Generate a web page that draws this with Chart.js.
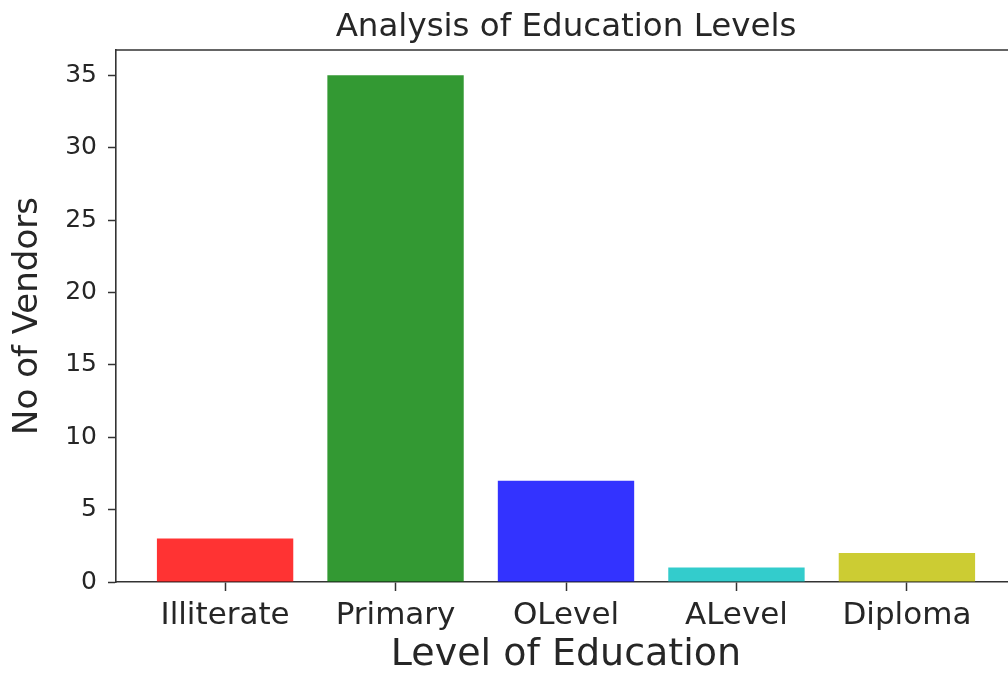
<!DOCTYPE html>
<html>
<head>
<meta charset="utf-8">
<script src="https://cdn.jsdelivr.net/npm/chart.js@4"></script>
<style>
  html, body { margin: 0; padding: 0; background: #ffffff; overflow: hidden; width: 1008px; height: 673px; }
  #wrap { width: 1020px; height: 673px; }
</style>
</head>
<body>
<div id="wrap"><canvas id="c" width="1020" height="673"></canvas></div>
<script>
const categories = ["Illiterate", "Primary", "OLevel", "ALevel", "Diploma"];
const vendorCounts = [3, 35, 7, 1, 2];
const barColors = ["rgba(255,0,0,0.8)", "rgba(0,128,0,0.8)", "rgba(0,0,255,0.8)", "rgba(0,191,191,0.8)", "rgba(191,191,0,0.8)"];
const yTickValues = [0, 5, 10, 15, 20, 25, 30, 35];
const chartTitle = "Analysis of Education Levels";
const xTitle = "Level of Education";
const yTitle = "No of Vendors";

const FONT = "'DejaVu Sans', sans-serif";
const TEXT = "#262626";
const AXIS = "#333333";

const framePlugin = {
  id: "frame",
  afterDraw(chart) {
    const a = chart.chartArea, ctx = chart.ctx;
    ctx.save();
    ctx.strokeStyle = AXIS;
    ctx.lineWidth = 1.6;
    ctx.beginPath();
    ctx.moveTo(a.left, a.top);
    ctx.lineTo(a.right, a.top);
    ctx.lineTo(a.right, a.bottom);
    ctx.stroke();
    ctx.fillStyle = TEXT;
    ctx.font = "32.5px " + FONT;
    ctx.textAlign = "center";
    ctx.textBaseline = "alphabetic";
    ctx.fillText(chartTitle, (a.left + a.right) / 2, 36);
    ctx.restore();
  }
};

new Chart(document.getElementById("c"), {
  type: "bar",
  data: {
    datasets: [{
      data: categories.map((c, i) => ({ x: i, y: vendorCounts[i] })),
      backgroundColor: barColors,
      borderWidth: 0,
      categoryPercentage: 1.0,
      barPercentage: 0.8
    }]
  },
  options: {
    responsive: false,
    devicePixelRatio: 1,
    animation: false,
    layout: { padding: { top: 50, right: 4, left: 0, bottom: 0 } },
    plugins: { legend: { display: false }, tooltip: { enabled: false }, title: { display: false } },
    scales: {
      x: {
        type: "linear",
        offset: false,
        min: -0.64,
        max: 4.64,
        afterBuildTicks(scale) { scale.ticks = categories.map((c, i) => ({ value: i })); },
        afterFit(scale) { scale.height = 91; },
        ticks: {
          callback: (v) => categories[v],
          font: { family: FONT, size: 31 },
          color: TEXT,
          padding: 6,
          maxRotation: 0,
          autoSkip: false
        },
        grid: { offset: false, drawOnChartArea: false, tickLength: 9, tickColor: AXIS, tickWidth: 1.5 },
        border: { color: AXIS, width: 1.6 },
        title: { display: true, text: xTitle, font: { family: FONT, size: 38 }, color: TEXT, padding: { top: -5, bottom: -5 } }
      },
      y: {
        min: 0,
        max: 36.75,
        afterBuildTicks(scale) { scale.ticks = yTickValues.map(v => ({ value: v })); },
        afterFit(scale) { scale.width = 116; },
        ticks: { font: { family: FONT, size: 25 }, color: TEXT, padding: 11 },
        grid: { drawOnChartArea: false, tickLength: 8, tickColor: AXIS, tickWidth: 1.5 },
        border: { color: AXIS, width: 1.6 },
        title: { display: true, text: yTitle, font: { family: FONT, size: 34 }, color: TEXT, padding: { top: 8, bottom: 0 } }
      }
    }
  },
  plugins: [framePlugin]
});
</script>
</body>
</html>
